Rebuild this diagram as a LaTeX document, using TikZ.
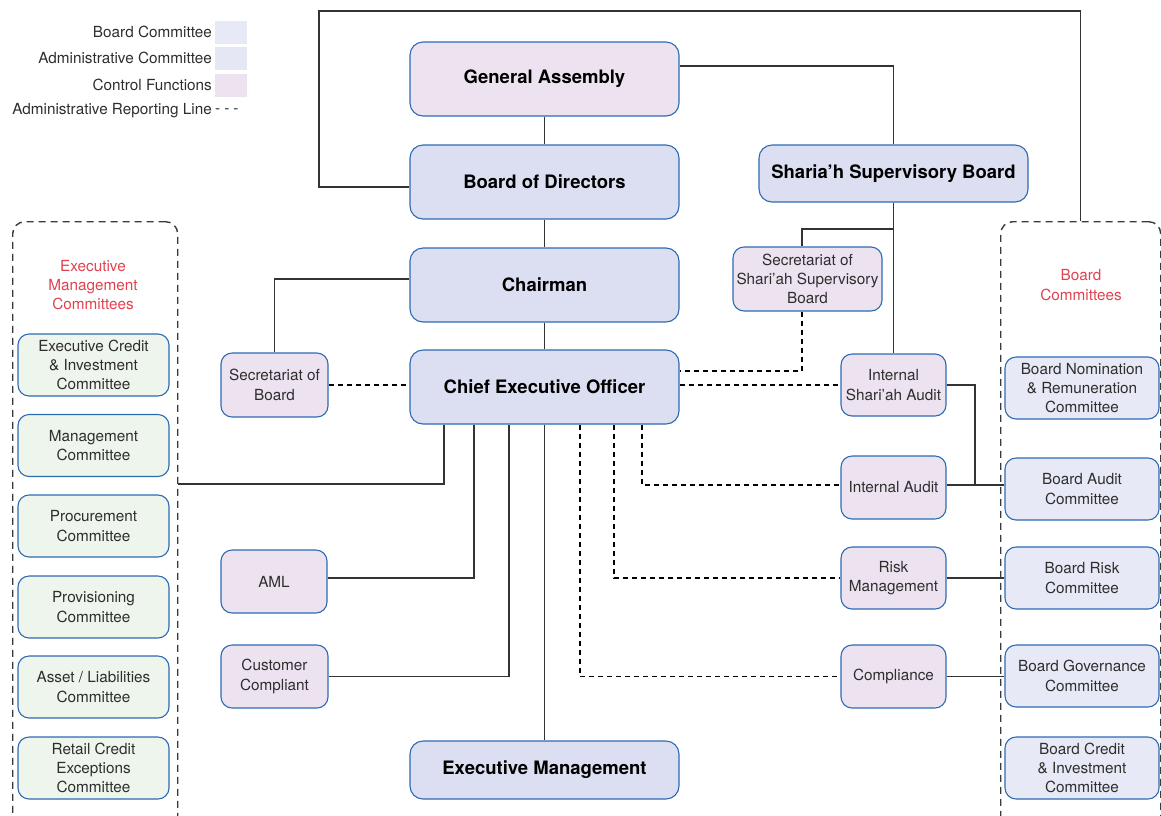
\documentclass[tikz,border=0pt]{standalone}
\usepackage{fontspec}
\setmainfont{TeX Gyre Heros}
\definecolor{bblue}{HTML}{2D6AB3}
\definecolor{gafill}{HTML}{EDE3F0}
\definecolor{bdfill}{HTML}{DCDFF1}
\definecolor{ctfill}{HTML}{EDE3F0}
\definecolor{bcfill}{HTML}{E8E9F6}
\definecolor{grfill}{HTML}{EEF5EC}
\definecolor{txt}{HTML}{2E2E2E}
\definecolor{lnc}{HTML}{333333}
\definecolor{redt}{HTML}{E0424F}
\definecolor{dashc}{HTML}{3A3A3A}
\begin{document}
\begin{tikzpicture}[x=1pt,y=-1pt,
  box/.style={draw=bblue, line width=1.1pt, rounded corners=11pt, align=center, inner sep=1pt,
    font=\fontsize{15.3}{19.3}\selectfont, text=txt},
  big/.style={box, rounded corners=13pt, font=\bfseries\fontsize{18.5}{22}\selectfont, text=black, fill=bdfill, minimum width=269},
  ctl/.style={box, fill=ctfill},
  bcom/.style={box, fill=bcfill, minimum width=154, minimum height=62},
  ecom/.style={box, fill=grfill, minimum width=151, minimum height=62},
  conn/.style={draw=lnc, line width=1.3pt},
  dline/.style={draw=black, line width=1.1pt, dash pattern=on 5pt off 4pt},
  cont/.style={draw=dashc, line width=1.4pt, dash pattern=on 7pt off 5pt, rounded corners=12pt, inner sep=0pt},
  leg/.style={anchor=east, font=\fontsize{15.3}{17}\selectfont, text=txt, inner sep=1pt},
  sw/.style={minimum width=32, minimum height=23, inner sep=0pt, anchor=west},
  redlab/.style={align=center, text=redt, font=\fontsize{15.3}{19.3}\selectfont}
]
\useasboundingbox (0,0) rectangle (1161,815);

% legend
\node[leg] (l1) at (213,32) {Board Committee};
\node[leg] (l2) at (213,58) {Administrative Committee};
\node[leg] (l3) at (213,85) {Control Functions};
\node[leg] (l4) at (213,111) {Administrative Reporting Line};
\node[sw, fill=bcfill] (s1) at (215,32) {};
\node[sw, fill=bcfill!85!bdfill] (s2) at (215,58) {};
\node[sw, fill=ctfill] (s3) at (215,85) {};
\node[anchor=west, inner sep=1pt, font=\fontsize{15.3}{17}\selectfont, text=txt] (s4) at (214,111) {-\hspace{4pt}-\hspace{4pt}-};

% containers
\node[cont, minimum width=165, minimum height=640, anchor=north west] (lc) at (12,221) {};
\node[cont, minimum width=160, minimum height=640, anchor=north west] (rc) at (1000,221) {};
\node[redlab] (lct) at (93,285) {Executive\\Management\\Committees};
\node[redlab] (rct) at (1081,285) {Board\\Committees};

% main column
\node[big, fill=gafill, minimum height=74] (ga) at (544.5,79) {General Assembly};
\node[big, minimum height=74] (bod) at (544.5,182) {Board of Directors};
\node[big, minimum height=74] (chair) at (544.5,285) {Chairman};
\node[big, minimum height=74] (ceo) at (544.5,387) {Chief Executive Officer};
\node[big, minimum height=58] (em) at (544.5,770) {Executive Management};
\node[big, minimum height=57] (ssb) at (893.5,173.5) {Sharia’h Supervisory Board};

% control functions
\node[ctl, minimum width=149, minimum height=64] (secssb) at (807.5,279) {Secretariat of\\Shari’ah Supervisory\\Board};
\node[ctl, minimum width=107, minimum height=64] (secb) at (274.5,385) {Secretariat of\\Board};
\node[ctl, minimum width=105, minimum height=62] (isa) at (893.5,385) {Internal\\Shari’ah Audit};
\node[ctl, minimum width=105, minimum height=63] (ia) at (893.5,487.5) {Internal Audit};
\node[ctl, minimum width=105, minimum height=62] (risk) at (893.5,578) {Risk\\Management};
\node[ctl, minimum width=105, minimum height=63] (comp) at (893.5,676.5) {Compliance};
\node[ctl, minimum width=106, minimum height=63] (aml) at (274,581.5) {AML};
\node[ctl, minimum width=107, minimum height=63] (cust) at (274.5,676.5) {Customer\\Compliant};

% executive management committees
\node[ecom] (e1) at (93.5,365) {Executive Credit\\\& Investment\\Committee};
\node[ecom] (e2) at (93.5,445.5) {Management\\Committee};
\node[ecom] (e3) at (93.5,526) {Procurement\\Committee};
\node[ecom] (e4) at (93.5,607) {Provisioning\\Committee};
\node[ecom] (e5) at (93.5,687) {Asset / Liabilities\\Committee};
\node[ecom] (e6) at (93.5,768) {Retail Credit\\Exceptions\\Committee};

% board committees
\node[bcom] (bn) at (1082,388) {Board Nomination\\\& Remuneration\\Committee};
\node[bcom] (ba) at (1082,489) {Board Audit\\Committee};
\node[bcom] (br) at (1082,578) {Board Risk\\Committee};
\node[bcom] (bg) at (1082,676) {Board Governance\\Committee};
\node[bcom] (bci) at (1082,768) {Board Credit\\\& Investment\\Committee};

% solid connectors
\draw[conn] (bod.west |- 0,187) -- (319,187) -- (319,11) -| (rc.north);
\draw[conn] (ga.east |- 0,66) -| (ssb.north);
\draw[conn] (ga.south) -- (bod.north);
\draw[conn] (bod.south) -- (chair.north);
\draw[conn] (chair.south) -- (ceo.north);
\draw[conn] (ceo.south) -- (em.north);
\draw[conn] (chair.west |- 0,279) -| (secb.north);
\draw[conn] (ssb.south) -- (isa.north);
\draw[conn] (ssb.south |- 0,229) -| (802,0 |- secssb.north);
\draw[conn] (isa.east) -| (975,485);
\draw[conn] (ia.east |- 0,485) -- (ba.west |- 0,485);
\draw[conn] (risk.east) -- (br.west |- risk.east);
\draw[conn] (comp.east) -- (bg.west |- comp.east);
\draw[conn] (444,0 |- ceo.south) |- (lc.east |- 0,484);
\draw[conn] (474,0 |- ceo.south) |- (aml.east |- 0,578);
\draw[conn] (509,0 |- ceo.south) |- (cust.east);

% dashed reporting lines
\draw[dline] (secb.east) -- (ceo.west |- secb.east);
\draw[dline] (802,0 |- secssb.south) |- (ceo.east |- 0,371);
\draw[dline] (ceo.east |- isa.west) -- (isa.west);
\draw[dline] (642,0 |- ceo.south) |- (ia.west |- 0,485);
\draw[dline] (614,0 |- ceo.south) |- (risk.west);
\draw[dline] (580,0 |- ceo.south) |- (comp.west);
\end{tikzpicture}
\end{document}
